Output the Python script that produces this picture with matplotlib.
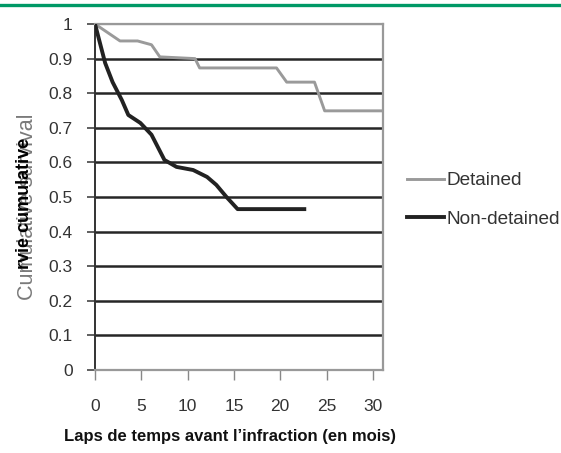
import matplotlib
matplotlib.use("Agg")
import matplotlib.pyplot as plt
from matplotlib.lines import Line2D

# Survival curves (months, cumulative survival)
det_months = [0, 2.7, 4.6, 6.1, 7.0, 10.8, 11.3, 19.6, 20.7, 23.7, 24.8, 31.1]
det_surv = [1.0, 0.951, 0.951, 0.94, 0.905, 0.90, 0.873, 0.873, 0.832, 0.832, 0.749, 0.749]

nondet_months = [0, 1.1, 1.9, 2.9, 3.6, 4.9, 6.1, 7.5, 8.8, 10.6, 12.1, 13.1, 14.2, 15.4, 22.6]
nondet_surv = [1.0, 0.887, 0.832, 0.78, 0.737, 0.714, 0.68, 0.607, 0.587, 0.578, 0.558, 0.535, 0.50, 0.465, 0.465]

series_names = ["Detained", "Non-detained"]
x_ticks = [0, 5, 10, 15, 20, 25, 30]
y_ticks = [i / 10 for i in range(11)]
y_labels = ["0"] + [f"{v:.1f}" for v in y_ticks[1:-1]] + ["1"]

plt.rcParams['font.family'] = ["Liberation Sans", "DejaVu Sans"]

W, H = 561, 453
fig = plt.figure(figsize=(W / 100, H / 100), dpi=100)

# green rule on top
fig.add_artist(Line2D([0, 1], [1 - 4.5 / H, 1 - 4.5 / H], color="#009966", lw=2.4))

ax = fig.add_axes([95 / W, (H - 370) / H, (383 - 95) / W, (370 - 24) / H])
ax.set_xlim(0, 31.1)
ax.set_ylim(0, 1)

for v in y_ticks[1:-1]:
    ax.axhline(v, color="#262626", lw=1.8, zorder=1)
ax.axhline(1, color="#999999", lw=1.6, zorder=1)

ax.plot(det_months, det_surv, color="#9a9a9a", lw=2.1, zorder=3)
ax.plot(nondet_months, nondet_surv, color="#222222", lw=2.8, zorder=3)

for side in ["top", "right", "bottom"]:
    ax.spines[side].set_color("#999999")
    ax.spines[side].set_linewidth(1.6)
ax.spines["left"].set_color("#333333")
ax.spines["left"].set_linewidth(1.4)

ax.set_xticks(x_ticks)
ax.set_yticks(y_ticks)
ax.set_yticklabels(y_labels)
ax.tick_params(axis="y", length=6, width=1.2, color="#444444", pad=10,
               labelsize=12.5, labelcolor="#333333")
ax.tick_params(axis="x", length=7, width=1.0, color="#888888", pad=14,
               labelsize=12.5, labelcolor="#333333")

handles = [Line2D([], [], color="#9a9a9a", lw=2.1),
           Line2D([], [], color="#222222", lw=2.8)]
fig.legend(handles, series_names, loc="upper left",
           bbox_to_anchor=(407 / W, 1 - 172 / H), frameon=False,
           fontsize=13.7, handlelength=1.95, handletextpad=0.1,
           labelspacing=1.12, borderaxespad=0, borderpad=0,
           labelcolor="#333333")

# overlapped y titles (English under the French one)
fig.text(28 / W, 1 - 207 / H, "Cumulative survival", rotation=90,
         ha="center", va="center", color="#7a7a7a", fontsize=15.5)
fig.text(25 / W, 1 - 203 / H, "rvie cumulative", rotation=90,
         ha="center", va="center", color="black", fontsize=13,
         fontweight="bold")

fig.text(230 / W, 1 - 437 / H, "Laps de temps avant l\u2019infraction (en mois)",
         ha="center", va="center", color="#111111", fontsize=12,
         fontweight="bold")

fig.savefig("out.png", dpi=100)
